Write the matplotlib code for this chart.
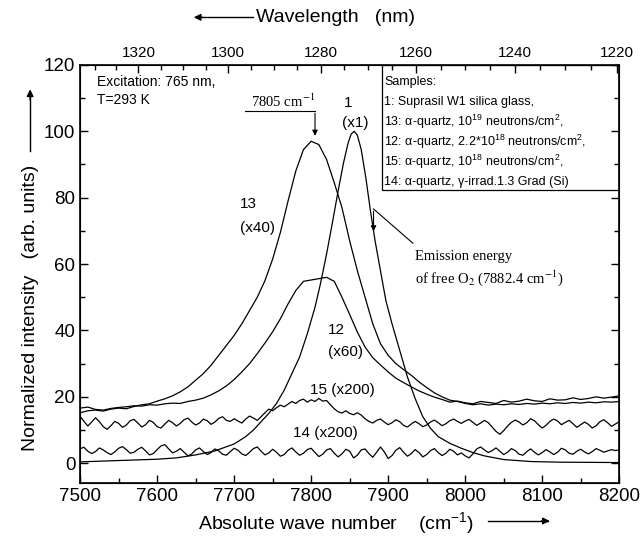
import numpy as np
import matplotlib.pyplot as plt
from matplotlib.patches import Rectangle

plt.rcParams['font.family'] = ['Liberation Sans', 'DejaVu Sans']
plt.rcParams['mathtext.fontset'] = 'custom'
plt.rcParams['mathtext.rm'] = 'Liberation Sans'
plt.rcParams['mathtext.it'] = 'Liberation Sans:italic'

# wave number grids (cm-1)
wn_5 = np.arange(7500, 8201, 5)
wn_10 = np.arange(7500, 8201, 10)

# sample 1 (x1), smooth peak
wn_s1 = [7500, 7550, 7600, 7625, 7650, 7675, 7700, 7715, 7725, 7735,
         7745, 7755, 7765, 7775, 7785, 7795, 7805, 7812, 7820, 7828,
         7835, 7842, 7848, 7852, 7856, 7860, 7865, 7871, 7877, 7883,
         7890, 7897, 7905, 7915, 7925, 7935, 7945, 7955, 7965, 7980,
         7995, 8010, 8025, 8050, 8085, 8125, 8200]
int_s1 = [0.4, 0.8, 1.2, 1.6, 2.5, 3.7, 5.8, 8.0, 10.0, 12.5,
          15.0, 18.0, 22.0, 27.0, 32.0, 39.0, 47.0, 54.0, 63.0, 73.0,
          82.0, 90.5, 96.5, 99.2, 100.0, 98.8, 94.5, 86.0, 76.0, 67.0,
          58.0, 49.0, 42.0, 34.0, 26.0, 19.5, 14.0, 10.5, 8.0, 6.0,
          4.5, 3.2, 2.2, 1.1, 0.5, 0.3, 0.2]

# sample 13 (x40), step 10
int_s13 = [15.2, 15.8, 16.0, 15.7, 16.3, 16.6, 16.4, 17.1, 17.6, 17.9,
           18.7, 19.4, 20.3, 21.5, 23.0, 25.0, 27.0, 29.5, 32.5, 35.5,
           38.5, 42.0, 46.0, 50.0, 55.0, 61.5, 69.5, 79.0, 88.0, 94.5,
           97.0, 96.0, 91.5, 84.5, 77.0, 67.0, 58.0, 50.0, 42.0, 36.0,
           32.5, 30.0, 28.2, 26.5, 24.5, 22.8, 21.2, 20.0, 19.0, 18.6,
           18.0, 17.6, 17.9, 17.5, 17.8, 17.6, 17.9, 17.7, 18.0, 17.8,
           18.1, 17.9, 18.2, 18.0, 18.3, 18.1, 18.4, 18.2, 18.5, 18.4,
           18.6]

# sample 12 (x60), step 10
int_s12 = [16.6, 16.9, 16.2, 16.0, 16.5, 16.8, 17.0, 17.3, 17.2, 17.6,
           17.5, 17.9, 18.1, 18.0, 18.6, 19.0, 19.6, 20.6, 21.8, 23.3,
           25.2, 27.5, 30.0, 33.0, 36.2, 39.6, 43.5, 48.0, 52.0, 54.8,
           55.2, 55.6, 56.0, 54.8, 50.0, 44.8, 39.5, 35.0, 31.8, 29.6,
           27.5, 25.6, 24.3, 23.0, 21.8, 20.8, 19.9, 19.2, 18.4, 18.7,
           18.2, 17.9, 18.6, 18.3, 18.0, 18.9, 18.4, 18.7, 19.3, 18.8,
           18.6, 19.4, 19.0, 19.1, 19.7, 19.2, 19.5, 20.0, 19.6, 19.9,
           20.3]

# sample 15 (x200), step 5
int_s15 = [14.1, 12.6, 11.2, 12.4, 13.7, 12.5, 11.0, 10.2, 11.3, 12.6,
           12.0, 10.8, 11.5, 12.8, 13.2, 12.1, 10.9, 11.6, 12.9, 12.3,
           11.0, 10.6, 11.8, 12.9, 12.2, 11.2, 12.0, 13.1, 13.6, 12.4,
           11.5, 12.1, 13.3, 12.8, 11.7, 12.4, 13.5, 14.0, 12.9, 12.6,
           13.4, 12.7, 12.1, 13.3, 14.2, 13.6, 12.9, 14.0, 15.2, 16.3,
           15.8, 16.7, 17.5, 17.0, 17.8, 18.6, 18.0, 18.9, 19.3, 18.4,
           19.1, 18.6, 19.5, 18.7, 18.9, 17.6, 16.4, 15.5, 15.1, 15.8,
           15.0, 14.6, 15.2, 14.5, 13.4, 12.6, 12.1, 12.9, 13.3, 12.4,
           11.6, 12.2, 13.1, 12.5, 11.4, 10.9, 11.8, 12.6, 11.9, 11.0,
           11.5, 12.4, 13.0, 12.2, 11.3, 11.9, 12.8, 13.3, 12.6, 12.0,
           12.7, 13.2, 12.3, 11.4, 12.1, 12.9, 12.2, 10.9, 9.6, 8.7,
           9.8, 11.2, 12.3, 13.0, 12.4, 11.5, 12.2, 13.4, 12.8, 11.6,
           10.6, 11.4, 12.6, 13.3, 12.7, 11.6, 12.3, 12.9, 11.9, 10.8,
           11.6, 12.4, 11.7, 10.6, 11.3, 12.5, 13.1, 12.2, 11.1, 11.8,
           12.5]

# sample 14 (x200), step 5
int_s14 = [4.4, 4.8, 3.6, 2.9, 3.5, 4.6, 4.0, 3.2, 2.6, 3.4,
           4.5, 5.0, 4.1, 3.0, 3.3, 4.2, 4.8, 3.7, 2.5, 2.9,
           4.1, 5.2, 5.6, 4.3, 3.1, 3.6, 4.4, 3.3, 2.2, 2.8,
           4.0, 4.6, 3.5, 2.6, 3.2, 4.3, 3.7, 2.7, 2.4, 3.5,
           4.5, 3.9, 2.8, 2.3, 3.3, 4.4, 4.9, 3.6, 2.5, 3.1,
           4.2, 3.3, 2.1, 2.6, 3.9, 4.6, 3.4, 2.4, 3.0, 4.1,
           4.5, 3.2, 2.0, 2.7, 4.0, 4.4, 3.0, 1.9, 2.8, 4.2,
           3.6, 1.6, 2.4, 4.0, 4.3, 2.9, 1.8, 3.3, 4.9, 3.4,
           1.4, 2.3, 3.9, 4.7, 3.3, 2.1, 2.9, 4.1, 3.2, 1.9,
           2.6, 3.8, 4.4, 3.2, 2.3, 3.0, 4.2, 3.6, 2.5, 3.1,
           2.2, 1.6, 2.8, 4.3, 4.9, 4.0, 3.2, 3.8, 4.6, 3.6,
           2.6, 3.3, 4.4, 3.8, 2.7, 2.4, 3.5, 4.3, 3.3, 2.5,
           3.2, 4.1, 3.4, 2.6, 3.3, 4.5, 4.0, 3.0, 2.7, 3.6,
           4.2, 3.4, 2.8, 3.5, 4.4, 3.9, 3.3, 3.7, 4.1, 3.8,
           4.0]

# top axis (wavelength, nm)
nm_major = [1320, 1300, 1280, 1260, 1240, 1220]
nm_minor = [n for n in range(1330, 1219, -5) if n not in nm_major]

samples = ["Samples:",
           "1: Suprasil W1 silica glass,",
           "13: \u03b1-quartz, 10$^{19}$ neutrons/cm$^2$,",
           "12: \u03b1-quartz, 2.2*10$^{18}$ neutrons/cm$^2$,",
           "15: \u03b1-quartz, 10$^{18}$ neutrons/cm$^2$,",
           "14: \u03b1-quartz, \u03b3-irrad.1.3 Grad (Si)"]

fig = plt.figure(figsize=(6.41, 5.41), dpi=100)
ax = fig.add_axes([0.125, 0.107, 0.841, 0.773])

lw = 0.9
ax.plot(wn_s1, int_s1, color='k', lw=lw)
ax.plot(wn_10, int_s13, color='k', lw=lw)
ax.plot(wn_10, int_s12, color='k', lw=lw)
ax.plot(wn_5, int_s15, color='k', lw=lw)
ax.plot(wn_5, int_s14, color='k', lw=lw)

ax.set_xlim(7500, 8200)
ax.set_ylim(-6, 120)
ax.set_xticks(range(7500, 8201, 100))
ax.set_xticks(range(7550, 8200, 100), minor=True)
ax.set_yticks(range(0, 121, 20))
ax.set_yticks(range(10, 120, 20), minor=True)
ax.tick_params(which='both', direction='in', right=True, top=False,
               width=1, labelsize=13.5)
ax.tick_params(which='major', length=6)
ax.tick_params(which='minor', length=3.5)
for s in ax.spines.values():
    s.set_linewidth(1.2)

ax2 = ax.twiny()
ax2.set_xlim(7500, 8200)
ax2.set_xticks([1e7 / n for n in nm_major])
ax2.set_xticklabels([str(n) for n in nm_major])
ax2.set_xticks([1e7 / n for n in nm_minor], minor=True)
ax2.tick_params(which='both', direction='in', width=1, labelsize=11)
ax2.tick_params(which='major', length=6)
ax2.tick_params(which='minor', length=3.5)

# labels with arrows
fig.text(0.524, 0.034, "Absolute wave number    (cm$^{-1}$)", ha='center',
         va='center', fontsize=14)
fig.add_artist(plt.Line2D([0.762, 0.855], [0.037, 0.037], color='k', lw=1))
ax.annotate('', xy=(0.862, 0.037), xytext=(0.84, 0.037), xycoords='figure fraction',
            arrowprops=dict(arrowstyle='-|>', color='k', lw=1, mutation_scale=10))
fig.text(0.524, 0.968, "Wavelength   (nm)", ha='center', va='center', fontsize=14)
fig.add_artist(plt.Line2D([0.305, 0.395], [0.968, 0.968], color='k', lw=1))
ax.annotate('', xy=(0.298, 0.968), xytext=(0.32, 0.968), xycoords='figure fraction',
            arrowprops=dict(arrowstyle='-|>', color='k', lw=1, mutation_scale=10))
fig.text(0.047, 0.43, "Normalized intensity   (arb. units)", rotation=90,
         ha='center', va='center', fontsize=14)
fig.add_artist(plt.Line2D([0.047, 0.047], [0.72, 0.83], color='k', lw=1))
ax.annotate('', xy=(0.047, 0.84), xytext=(0.047, 0.81), xycoords='figure fraction',
            arrowprops=dict(arrowstyle='-|>', color='k', lw=1, mutation_scale=10))

# annotations
ax.text(7522, 117, "Excitation: 765 nm,\nT=293 K", ha='left', va='top',
        fontsize=10, linespacing=1.35)
ax.text(7764, 109, "7805 cm$^{-1}$", ha='center', va='center', fontsize=10.5,
        family='Liberation Serif', math_fontfamily='stix')
ax.plot([7714, 7805], [106, 106], color='k', lw=0.8)
ax.annotate('', xy=(7805, 97.8), xytext=(7805, 106.3),
            arrowprops=dict(arrowstyle='-|>', color='k', lw=0.8, mutation_scale=8))
ax.text(7848, 108.5, "1", ha='center', va='center', fontsize=11)
ax.text(7857, 102.5, "(x1)", ha='center', va='center', fontsize=11)
ax.text(7708, 78, "13", ha='left', va='center', fontsize=11)
ax.text(7708, 71, "(x40)", ha='left', va='center', fontsize=11)
ax.text(7822, 40, "12", ha='left', va='center', fontsize=11)
ax.text(7822, 33.5, "(x60)", ha='left', va='center', fontsize=11)
ax.text(7799, 22, "15 (x200)", ha='left', va='center', fontsize=11)
ax.text(7777, 9, "14 (x200)", ha='left', va='center', fontsize=11)

ax.text(7935, 62.4, "Emission energy", ha='left', va='center', fontsize=10.5,
        family='Liberation Serif', math_fontfamily='stix')
ax.text(7935, 55.8, "of free O$_2$ (7882.4 cm$^{-1}$)", ha='left', va='center',
        fontsize=10.5, family='Liberation Serif', math_fontfamily='stix')
ax.plot([7932, 7881], [66.3, 76.6], color='k', lw=0.8)
ax.annotate('', xy=(7881, 69.0), xytext=(7881, 76.8),
            arrowprops=dict(arrowstyle='-|>', color='k', lw=0.8, mutation_scale=8))

ax.add_patch(Rectangle((7892, 82.3), 308, 37.7, fill=False, lw=0.9, ec='k'))
for i, line in enumerate(samples):
    ax.text(7895, 114.9 - 6.05 * i, line, ha='left', va='center', fontsize=9)

fig.savefig('out.png', dpi=100)
